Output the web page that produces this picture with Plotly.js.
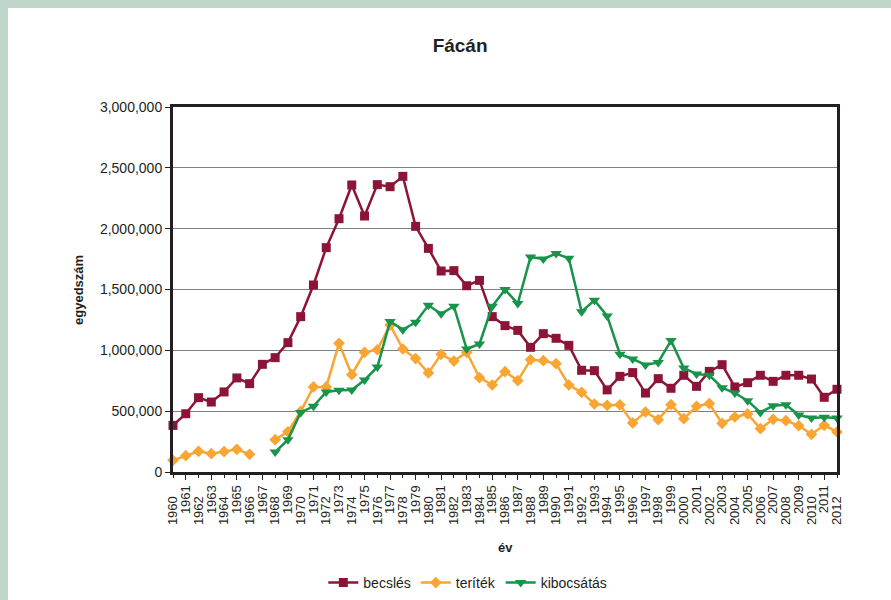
<!DOCTYPE html>
<html>
<head>
<meta charset="utf-8">
<script src="https://cdn.plot.ly/plotly-3.0.1.min.js"></script>
<style>
  html, body { margin:0; padding:0; background:#c1d6cb; width:891px; height:600px; overflow:hidden; }
  #chart { position:absolute; left:8px; top:8px; width:883px; height:592px; background:#ffffff; }
</style>
</head>
<body>
<div id="chart"></div>
<script>
var years = [1960,1961,1962,1963,1964,1965,1966,1967,1968,1969,
             1970,1971,1972,1973,1974,1975,1976,1977,1978,1979,
             1980,1981,1982,1983,1984,1985,1986,1987,1988,1989,
             1990,1991,1992,1993,1994,1995,1996,1997,1998,1999,
             2000,2001,2002,2003,2004,2005,2006,2007,2008,2009,
             2010,2011,2012];

var becsles = [383000,479000,611000,575000,658000,773000,726000,885000,940000,1063000,
               1277000,1537000,1844000,2082000,2359000,2104000,2362000,2345000,2430000,2019000,
               1838000,1652000,1655000,1531000,1575000,1277000,1203000,1164000,1025000,1137000,
               1099000,1041000,836000,833000,675000,786000,817000,649000,767000,688000,
               795000,704000,827000,882000,699000,734000,795000,745000,795000,795000,
               764000,614000,680000];

var teritek = [96000,134000,170000,151000,167000,186000,145000,null,266000,331000,
               499000,699000,699000,1058000,800000,984000,1005000,1208000,1011000,932000,
               814000,967000,912000,984000,775000,715000,825000,751000,923000,915000,
               890000,715000,655000,559000,548000,552000,403000,493000,430000,553000,
               438000,540000,562000,400000,452000,477000,356000,433000,422000,381000,
               310000,384000,329000];

var kibocsatas = [null,null,null,null,null,null,null,null,164000,266000,
                  490000,540000,658000,671000,674000,756000,863000,1238000,1170000,1230000,
                  1370000,1301000,1362000,1011000,1052000,1362000,1499000,1384000,1767000,1751000,
                  1795000,1756000,1318000,1411000,1283000,968000,929000,880000,901000,1080000,
                  855000,805000,795000,693000,649000,586000,490000,545000,553000,468000,
                  444000,449000,444000];

var seriesNames = ['becslés', 'teríték', 'kibocsátás'];
var yTickVals = [0,500000,1000000,1500000,2000000,2500000,3000000];
var chartTitle = 'Fácán';
var xTitle = 'év';
var yTitle = 'egyedszám';

// staggered year labels: odd years close to the axis, even years further away
var oddYears = years.filter(function(y){ return y % 2 === 1; });
var evenYears = years.filter(function(y){ return y % 2 === 0; });

var FONT = 'Liberation Sans, Arial, Helvetica, sans-serif';
var TXT = '#231f20';

var traces = [
  {x: years, y: becsles, name: seriesNames[0], type:'scatter', mode:'lines+markers',
   line:{color:'#8c1537', width:2.5}, marker:{symbol:'square', size:9, color:'#8c1537'},
   connectgaps:false, cliponaxis:false},
  {x: years, y: teritek, name: seriesNames[1], type:'scatter', mode:'lines+markers',
   line:{color:'#f9a533', width:2.5}, marker:{symbol:'diamond', size:9, color:'#f9a533'},
   connectgaps:false, cliponaxis:false},
  {x: years, y: kibocsatas, name: seriesNames[2], type:'scatter', mode:'lines+markers',
   line:{color:'#17934a', width:2.5}, marker:{symbol:'triangle-down', size:10, color:'#17934a'},
   connectgaps:false, cliponaxis:false},
  {x: [], y: [], xaxis:'x2', yaxis:'y', type:'scatter', mode:'markers', showlegend:false, hoverinfo:'skip'}
];

var layout = {
  width: 883, height: 592,
  paper_bgcolor:'#ffffff', plot_bgcolor:'#ffffff',
  margin:{l:165, r:54, t:99, b:128, pad:0, autoexpand:false},
  font:{family:FONT, color:TXT},
  showlegend:true,
  title:{text:'<b>'+chartTitle+'</b>', font:{family:FONT, size:19, color:TXT},
         xref:'container', yref:'container', x:0.512, y:0.9375, xanchor:'center', yanchor:'middle'},
  xaxis:{
    range:[1960,2012], tickmode:'array', tickvals:oddYears,
    tickangle:-90, tickfont:{family:FONT, size:13, color:TXT},
    ticks:'outside', ticklen:5, tickwidth:1, tickcolor:'#231f20',
    showgrid:false, zeroline:false, automargin:false,
    showline:true, mirror:true, linecolor:'#231f20', linewidth:3
  },
  xaxis2:{
    range:[1960,2012], overlaying:'x', anchor:'y', side:'bottom',
    tickmode:'array', tickvals:evenYears,
    tickangle:-90, tickfont:{family:FONT, size:13, color:TXT},
    ticks:'outside', ticklen:5, tickwidth:1, tickcolor:'#231f20', ticklabelstandoff:13,
    showgrid:false, zeroline:false, automargin:false, showline:false
  },
  yaxis:{
    range:[0,3000000], tickmode:'array', tickvals:yTickVals, tickformat:',d',
    tickfont:{family:FONT, size:14, color:TXT},
    ticks:'outside', ticklen:5, tickwidth:1, tickcolor:'#231f20',
    showgrid:true, gridcolor:'#808080', gridwidth:1, zeroline:false, automargin:false,
    showline:true, mirror:true, linecolor:'#231f20', linewidth:3
  },
  legend:{orientation:'h', x:0.444, y:-0.304, xanchor:'center', yanchor:'middle',
          font:{family:FONT, size:14, color:TXT}, bgcolor:'rgba(0,0,0,0)', itemwidth:30},
  annotations:[
    {text:'<b>'+xTitle+'</b>', xref:'paper', yref:'paper', x:(505-173)/664, y:-(547-472)/365,
     showarrow:false, xanchor:'center', yanchor:'middle', font:{family:FONT, size:13, color:TXT}},
    {text:'<b>'+yTitle+'</b>', xref:'paper', yref:'paper', x:(78-173)/664, y:(472-290)/365,
     showarrow:false, textangle:-90, xanchor:'center', yanchor:'middle', font:{family:FONT, size:13, color:TXT}}
  ]
};

Plotly.newPlot('chart', traces, layout, {displayModeBar:false, staticPlot:true});
</script>
</body>
</html>
